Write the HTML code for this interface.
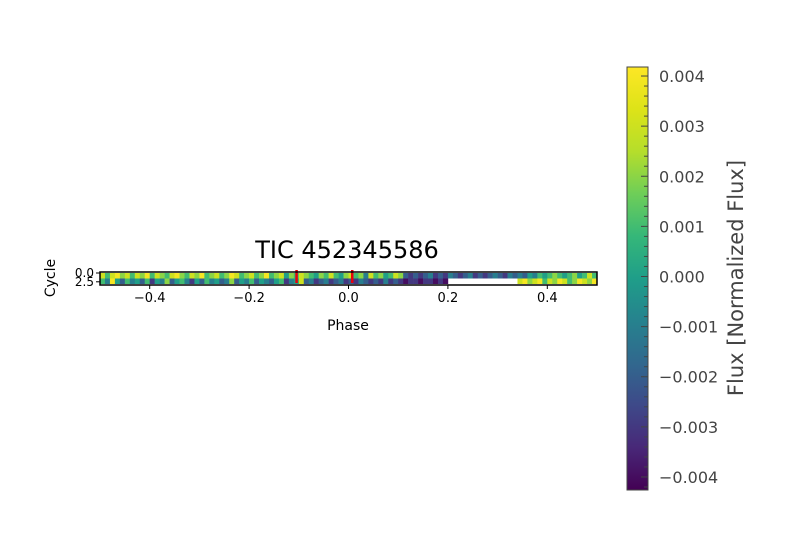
<!DOCTYPE html>
<html><head><meta charset="utf-8"><style>
body{margin:0;background:#fff;}
svg{display:block;font-family:"DejaVu Sans","Liberation Sans",sans-serif;}
</style></head><body>
<svg id="chart" width="800" height="550"></svg>
<script>
// data (flux in units of 1e-3); null = missing
const phaseMin = -0.5, phaseMax = 0.5;
const cycleLabels = ["0.0", "2.5"];
const phaseTicks = [-0.4, -0.2, 0.0, 0.2, 0.4];
const cbarTicks = [0.004, 0.003, 0.002, 0.001, 0.000, -0.001, -0.002, -0.003, -0.004];
const redMarks = [-0.105, 0.007];
const row1 = [3,1,3,4,2,3,1,3,2,4,1,3,2,1,3,4,2,1,3,2,4,1,2,3,1,2,4,3,1,2,3,1,2,4,1,2,3,0,2,1,
  3,2,1,0,2,1,3,1,0,2,3,1,2,-1,3,1,2,0,1,3,2,-2,-3,-2,-3,-2,-1,-3,-2,-3,-1,-2,-3,-2,-1,-3,-2,-3,-2,-1,
  -2,-3,-1,-2,-1,-2,0,-1,1,0,1,2,1,0,1,2,0,1,3,1];
const row2 = [1,-1,4,0,-2,1,-1,0,-2,1,-3,0,-1,2,-2,0,1,-1,-3,0,-2,1,-1,0,-2,-1,2,-2,0,-1,1,-2,0,-1,-2,0,1,-3,-1,0,
  3,-2,-1,-3,-2,-1,-3,-2,-1,-3,-2,-3,-1,-2,-3,-2,-3,-1,-3,-2,-3,-4,-3,-3,-4,-3,-3,-4,-3,-4,null,null,null,null,null,null,null,null,null,null,
  null,null,null,null,3,4,2,3,4,1,3,2,4,3,1,2,4,3,2,4];
const rows = [row1, row2];

const NS = "http://www.w3.org/2000/svg";
const svg = document.getElementById('chart');
function el(tag, attrs, parent){const e=document.createElementNS(NS,tag);for(const k in attrs)e.setAttribute(k,attrs[k]);(parent||svg).appendChild(e);return e;}
const X0=100, X1=597, Y0=272, Y1=285;
const xs = p => X0 + (p-phaseMin)/(phaseMax-phaseMin)*(X1-X0);
const vmin=-4.26, vmax=4.18;
const CB0=67, CB1=490;
const cy = v => CB1 - (v-vmin)/(vmax-vmin)*(CB1-CB0);
const stops=[[0,'#440154'],[0.1,'#482878'],[0.2,'#3e4989'],[0.3,'#31688e'],[0.4,'#26828e'],[0.5,'#1f9e89'],[0.6,'#35b779'],[0.7,'#6ece58'],[0.8,'#b5de2b'],[0.9,'#dde318'],[1,'#fde725']];
function hex(h){return [1,3,5].map(i=>parseInt(h.substr(i,2),16));}
function viridis(t){t=Math.max(0,Math.min(1,t));for(let i=1;i<stops.length;i++){if(t<=stops[i][0]){const a=stops[i-1],b=stops[i];const f=(t-a[0])/(b[0]-a[0]);const A=hex(a[1]),B=hex(b[1]);return 'rgb('+A.map((v,j)=>Math.round(v+(B[j]-v)*f)).join(',')+')';}}return stops[10][1];}

// title
const t=el('text',{x:347,y:258,'font-size':24,'text-anchor':'middle',fill:'#000'});t.textContent='TIC 452345586';



// cells
const rowH=(Y1-Y0-2)/rows.length;
rows.forEach((r,ri)=>{
  const w=(X1-X0)/r.length;
  r.forEach((v,i)=>{
    if(v===null) return;
    const c=el('rect',{x:X0+i*w,y:Y0+1+ri*rowH,width:w+0.3,height:rowH,fill:viridis((v-vmin)/(vmax-vmin))});
    
    
  });
});
redMarks.forEach(p=>{
  const m=el('rect',{x:xs(p)-1,y:Y0-2,width:2.5,height:Y1-Y0,fill:'#e8000b'});
  
  
});
const frame=el('rect',{x:X0,y:Y0,width:X1-X0,height:Y1-Y0,fill:'none',stroke:'#000','stroke-width':1.5});



// x ticks
phaseTicks.forEach(p=>{
  const x=xs(p);
  el('line',{x1:x,x2:x,y1:Y1,y2:Y1+4,stroke:'#000'});
  const l=el('text',{x:x,y:Y1+17,'font-size':13,'text-anchor':'middle'});
  l.textContent=(p<0?'\u2212':'')+Math.abs(p).toFixed(1);
  
  
});
const xt=el('text',{x:348,y:330,'font-size':14,'text-anchor':'middle'});xt.textContent='Phase';


// y ticks
cycleLabels.forEach((s,i)=>{
  const y=Y0+1+i*rowH*1.6;
  el('line',{x1:X0-4,x2:X0,y1:y,y2:y,stroke:'#000'});
  const l=el('text',{x:X0-6,y:y+4,'font-size':12,'text-anchor':'end'});l.textContent=s;
  
  
});
const yt=el('text',{x:55,y:278,'font-size':14,'text-anchor':'middle',transform:'rotate(-90 55 278)'});yt.textContent='Cycle';



// colorbar
const defs=el('defs',{});
const g=el('linearGradient',{id:'vg',x1:0,y1:1,x2:0,y2:0},defs);
stops.forEach(s=>el('stop',{offset:s[0],'stop-color':s[1]},g));
const cb=el('rect',{x:627,y:CB0,width:21,height:CB1-CB0,fill:'url(#vg)',stroke:'#444','stroke-width':1});


for(let k=-42;k<=41;k+=2){
  const v=k/10, y=cy(v); const major=(k%10===0);
  el('line',{x1:648-(major?7:4),x2:648,y1:y,y2:y,stroke:'#444','stroke-width':1});
}
cbarTicks.forEach(v=>{
  const l=el('text',{x:659,y:cy(v*1000)+6,'font-size':16,fill:'#444'});
  l.textContent=(v<0?'\u2212':'')+Math.abs(v).toFixed(3);
  
  
});
const cl=el('text',{x:743,y:278,'font-size':21,fill:'#444','text-anchor':'middle',transform:'rotate(-90 743 278)'});
cl.textContent='Flux [Normalized Flux]';


</script>
</body></html>
